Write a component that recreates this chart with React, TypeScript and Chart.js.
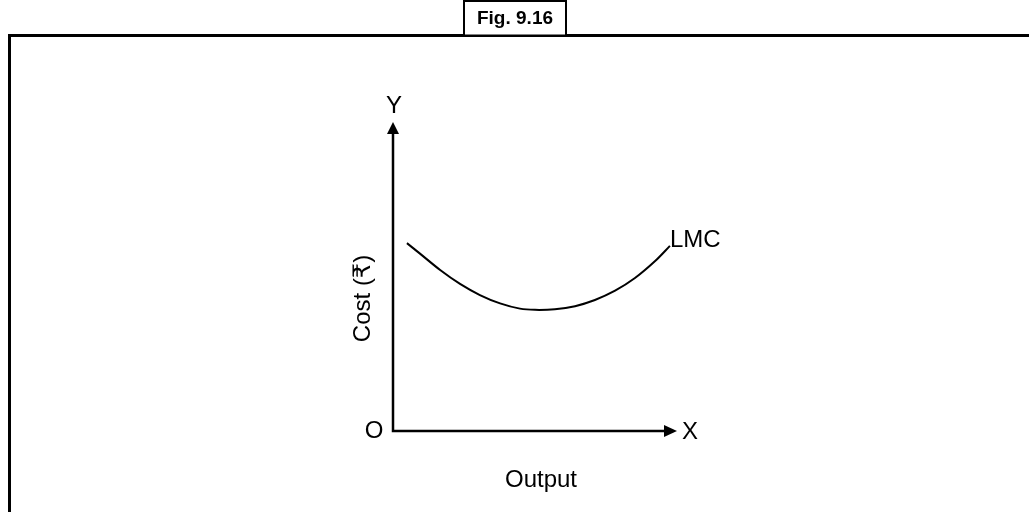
import React, { useEffect, useRef } from "react";
import { Chart, registerables } from "chart.js";

Chart.register(...registerables);

const outputX: number[] = [4.9, 9.5, 16.6, 23.6, 30.6, 37.7, 44.7, 50.0, 57.0, 64.1, 71.1, 78.2, 85.2, 92.3, 97.5];
const lmcCost: number[] = [60.8, 57.4, 52.1, 47.6, 44.0, 41.3, 39.6, 39.2, 39.4, 40.4, 42.4, 45.4, 49.5, 55.0, 59.9];
const curveLabel = "LMC";
const figTitle = "Fig. 9.16";
const xAxisTitle = "Output";
const yAxisTitle = "Cost (₹)";
const xAxisLetter = "X";
const yAxisLetter = "Y";
const originLetter = "O";

const FONT = '"Liberation Sans", Arial, "DejaVu Sans", sans-serif';

const decorPlugin = {
  id: "decor",
  afterDraw(chart: any) {
    const ctx = chart.ctx as CanvasRenderingContext2D;
    const xs = chart.scales.x;
    const ys = chart.scales.y;
    const x0 = xs.getPixelForValue(0);
    const x1 = xs.getPixelForValue(100);
    const y0 = ys.getPixelForValue(0);
    const y1 = ys.getPixelForValue(100);
    ctx.save();
    ctx.strokeStyle = "#000";
    ctx.fillStyle = "#000";

    // outer frame
    ctx.lineWidth = 3;
    ctx.beginPath();
    ctx.moveTo(9.5, 520);
    ctx.lineTo(9.5, 35.5);
    ctx.lineTo(1040, 35.5);
    ctx.stroke();

    // fig box
    ctx.fillStyle = "#fff";
    ctx.fillRect(463, 0, 104, 36);
    ctx.lineWidth = 2;
    ctx.strokeRect(464, 1, 102, 34.5);
    ctx.fillStyle = "#000";
    ctx.font = `bold 19px ${FONT}`;
    ctx.textAlign = "center";
    ctx.textBaseline = "middle";
    ctx.fillText(figTitle, 515, 19);

    // axes
    ctx.lineWidth = 2.5;
    ctx.beginPath();
    ctx.moveTo(x0, y1 + 10);
    ctx.lineTo(x0, y0);
    ctx.lineTo(x1 - 10, y0);
    ctx.stroke();
    // arrows
    ctx.beginPath();
    ctx.moveTo(x0, y1);
    ctx.lineTo(x0 - 6, y1 + 12);
    ctx.lineTo(x0 + 6, y1 + 12);
    ctx.closePath();
    ctx.fill();
    ctx.beginPath();
    ctx.moveTo(x1, y0);
    ctx.lineTo(x1 - 13, y0 - 6);
    ctx.lineTo(x1 - 13, y0 + 6);
    ctx.closePath();
    ctx.fill();

    // labels
    ctx.font = `24px ${FONT}`;
    ctx.textAlign = "center";
    ctx.textBaseline = "alphabetic";
    ctx.fillText(yAxisLetter, x0 + 1, y1 - 9);
    ctx.fillText(originLetter, x0 - 19, y0 + 7);
    ctx.textAlign = "left";
    ctx.fillText(xAxisLetter, x1 + 5, y0 + 8);
    const last = outputX.length - 1;
    ctx.fillText(curveLabel, xs.getPixelForValue(outputX[last]), ys.getPixelForValue(lmcCost[last]) + 1);
    ctx.textAlign = "center";
    ctx.fillText(xAxisTitle, (x0 + x1) / 2 + 6, y0 + 56);
    ctx.save();
    ctx.translate(x0 - 23, (y0 + y1) / 2 + 22);
    ctx.rotate(-Math.PI / 2);
    ctx.fillText(yAxisTitle, 0, 0);
    ctx.restore();

    ctx.restore();
  },
};

export default function App() {
  const ref = useRef<HTMLCanvasElement | null>(null);
  useEffect(() => {
    if (!ref.current) return;
    const chart = new Chart(ref.current, {
      type: "scatter",
      data: {
        datasets: [
          {
            label: curveLabel,
            data: outputX.map((x, i) => ({ x, y: lmcCost[i] })),
            showLine: true,
            borderColor: "#000",
            borderWidth: 2,
            pointRadius: 0,
            tension: 0.3,
            fill: false,
          },
        ],
      },
      options: {
        animation: false,
        responsive: false,
        maintainAspectRatio: false,
        events: [],
        layout: { padding: { left: 393, right: 352, top: 122, bottom: 81 } },
        scales: {
          x: { type: "linear", min: 0, max: 100, display: false },
          y: { type: "linear", min: 0, max: 100, display: false },
        },
        plugins: {
          legend: { display: false },
          tooltip: { enabled: false },
          title: { display: false },
        },
      },
      plugins: [decorPlugin],
    });
    return () => chart.destroy();
  }, []);
  return (
    <div style={{ position: "absolute", left: 0, top: 0, width: 1029, height: 512, background: "#fff" }}>
      <canvas ref={ref} width={1029} height={512} style={{ width: 1029, height: 512, display: "block" }} />
    </div>
  );
}
